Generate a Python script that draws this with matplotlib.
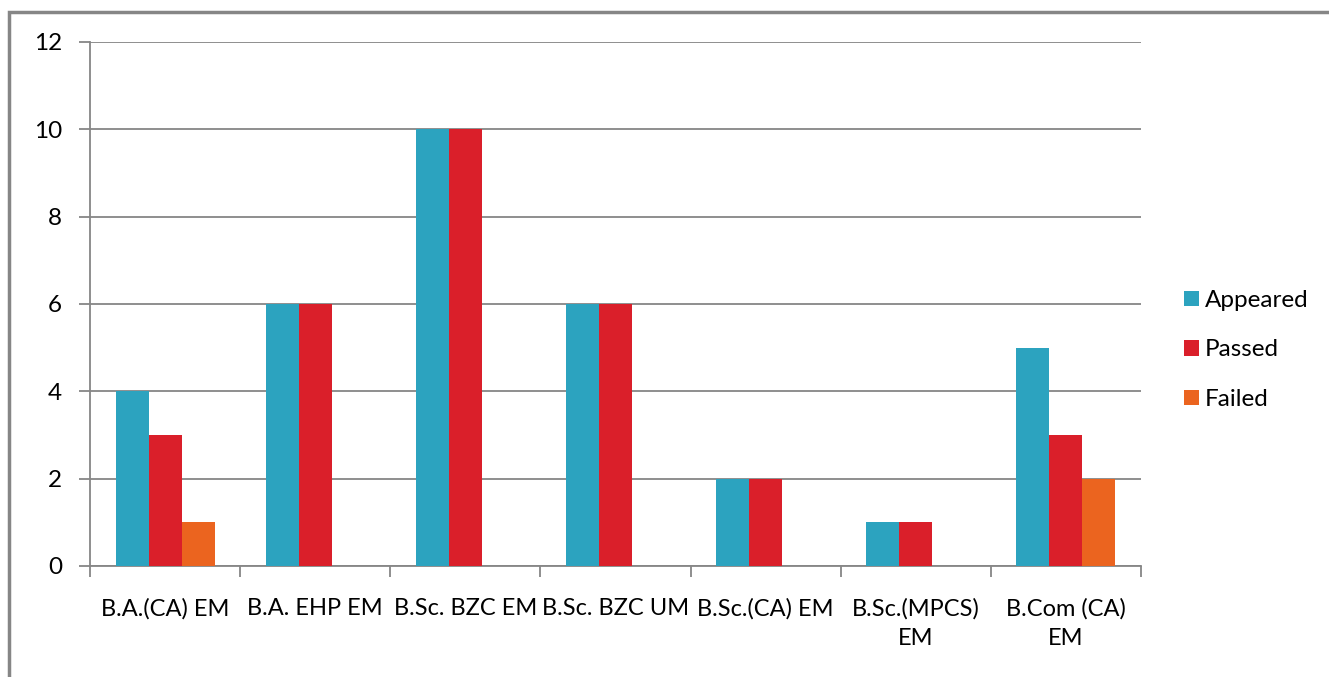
import matplotlib.pyplot as plt
import numpy as np
from matplotlib.patches import Rectangle

courses = ['B.A.(CA) EM', 'B.A. EHP EM', 'B.Sc. BZC EM', 'B.Sc. BZC UM',
           'B.Sc.(CA) EM', 'B.Sc.(MPCS)\nEM', 'B.Com (CA)\nEM']
appeared = [4, 6, 10, 6, 2, 1, 5]
passed = [3, 6, 10, 6, 2, 1, 3]
failed = [1, 0, 0, 0, 0, 0, 2]

plt.rcParams['font.family'] = ['Lato', 'DejaVu Sans']
grey = '#868686'
fs = 17.5

fig = plt.figure(figsize=(13.29, 6.77), dpi=100)
ax = fig.add_axes([90/1329, 1 - 566/677, (1141-90)/1329, (566-42)/677])

x = np.arange(len(courses)) + 0.5
w = 0.22
ax.bar(x - w, appeared, w, color='#2CA3BF', label='Appeared', zorder=3)
ax.bar(x, passed, w, color='#DA1F2A', label='Passed', zorder=3)
ax.bar(x + w, failed, w, color='#EB641F', label='Failed', zorder=3)

ax.set_xlim(0, len(courses))
ax.set_ylim(0, 12)
ax.set_yticks(range(0, 13, 2))
ax.yaxis.grid(True, color=grey, linewidth=1.3)
ax.set_axisbelow(True)

# category boundaries get the ticks, labels sit in the middle
ax.set_xticks(np.arange(len(courses) + 1))
ax.set_xticklabels([])
ax.set_xticks(x, minor=True)
ax.set_xticklabels(courses, minor=True, fontsize=17, linespacing=1.5)
ax.tick_params(axis='x', which='major', length=8, width=1.3, color=grey)
ax.tick_params(axis='x', which='minor', length=0, pad=23)
ax.tick_params(axis='y', length=8, width=1.3, color=grey, labelsize=fs, pad=12)

for side in ['top', 'right']:
    ax.spines[side].set_visible(False)
for side in ['left', 'bottom']:
    ax.spines[side].set_color(grey)
    ax.spines[side].set_linewidth(1.3)

fig.legend(loc='center left', bbox_to_anchor=(1162/1329, 1 - 350/677),
           frameon=False, fontsize=fs, handlelength=0.62, handleheight=0.62,
           handletextpad=0.25, labelspacing=1.17)

fig.patches.append(Rectangle((9/1329, -0.1), 1.1, 1 - 12/677 + 0.1,
                             transform=fig.transFigure, fill=False,
                             edgecolor=grey, linewidth=2.5))

plt.savefig('out.png')
